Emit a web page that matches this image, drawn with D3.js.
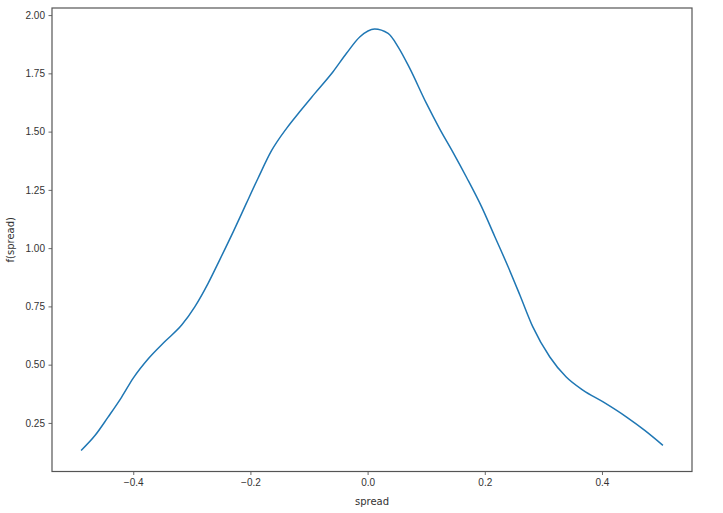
<!DOCTYPE html>
<html>
<head>
<meta charset="utf-8">
<script src="https://cdn.jsdelivr.net/npm/d3@7"></script>
<style>
  html, body { margin: 0; padding: 0; background: #fff; }
  svg { display: block; font-family: "DejaVu Sans", sans-serif; }
</style>
</head>
<body>
<svg id="chart" width="723" height="513"></svg>
<script>
const spreadX = [-0.489, -0.465, -0.443, -0.420, -0.400, -0.374, -0.346, -0.317, -0.295, -0.272,
  -0.252, -0.229, -0.207, -0.187, -0.164, -0.138, -0.116, -0.090, -0.059, -0.036,
  -0.013, 0.012, 0.035, 0.052, 0.072, 0.100, 0.123, 0.146, 0.169, 0.194,
  0.217, 0.240, 0.260, 0.282, 0.311, 0.339, 0.368, 0.402, 0.442, 0.473, 0.504];
const densityY = [0.132, 0.197, 0.275, 0.360, 0.442, 0.526, 0.599, 0.671, 0.748, 0.850,
  0.952, 1.072, 1.192, 1.300, 1.418, 1.515, 1.585, 1.664, 1.757, 1.836,
  1.907, 1.940, 1.921, 1.864, 1.771, 1.623, 1.512, 1.410, 1.303, 1.180,
  1.050, 0.919, 0.798, 0.662, 0.533, 0.447, 0.390, 0.340, 0.275, 0.218, 0.154];
const xTicks = [-0.4, -0.2, 0.0, 0.2, 0.4];
const yTicks = [0.25, 0.50, 0.75, 1.00, 1.25, 1.50, 1.75, 2.00];
const xLabel = "spread";
const yLabel = "f(spread)";

const W = 723, H = 513;
const margin = { left: 52, top: 8, right: 31, bottom: 41.5 };
const iw = W - margin.left - margin.right;
const ih = H - margin.top - margin.bottom;

const pts = spreadX.map((x, i) => ({ x, y: densityY[i] }));
const [x0, x1] = d3.extent(spreadX);
const [y0, y1] = d3.extent(densityY);
const mx = (x1 - x0) * 0.05, my = (y1 - y0) * 0.05;

const x = d3.scaleLinear().domain([x0 - mx, x1 + mx]).range([0, iw]);
const y = d3.scaleLinear().domain([y0 - my, y1 + my]).range([ih, 0]);

const svg = d3.select("#chart");
const g = svg.append("g").attr("transform", `translate(${margin.left},${margin.top})`);

const fmtX = v => (v < 0 ? "\u2212" : "") + Math.abs(v).toFixed(1);
const xAxis = d3.axisBottom(x).tickValues(xTicks).tickFormat(fmtX).tickSize(3.5).tickPadding(3.5);
const yAxis = d3.axisLeft(y).tickValues(yTicks).tickFormat(d3.format(".2f")).tickSize(3.5).tickPadding(3.5);

const gx = g.append("g").attr("transform", `translate(0,${ih})`).call(xAxis);
const gy = g.append("g").call(yAxis);
[gx, gy].forEach(a => {
  a.select(".domain").remove();
  a.selectAll(".tick line").attr("stroke", "#444").attr("stroke-width", 0.8);
  a.selectAll(".tick text").attr("fill", "#333").style("font-size", "10px");
});

g.append("path")
  .datum(pts)
  .attr("fill", "none")
  .attr("stroke", "#1f77b4")
  .attr("stroke-width", 1.5)
  .attr("stroke-linejoin", "round")
  .attr("d", d3.line().x(d => x(d.x)).y(d => y(d.y)).curve(d3.curveMonotoneX));

g.append("rect")
  .attr("x", 0).attr("y", 0).attr("width", iw).attr("height", ih)
  .attr("fill", "none").attr("stroke", "#555").attr("stroke-width", 1.2);

svg.append("text")
  .attr("x", margin.left + iw / 2).attr("y", H - 8)
  .attr("text-anchor", "middle").attr("fill", "#333").style("font-size", "10px")
  .text(xLabel);

svg.append("text")
  .attr("transform", `translate(14,${margin.top + ih / 2}) rotate(-90)`)
  .attr("text-anchor", "middle").attr("fill", "#333").style("font-size", "10px")
  .text(yLabel);
</script>
</body>
</html>
